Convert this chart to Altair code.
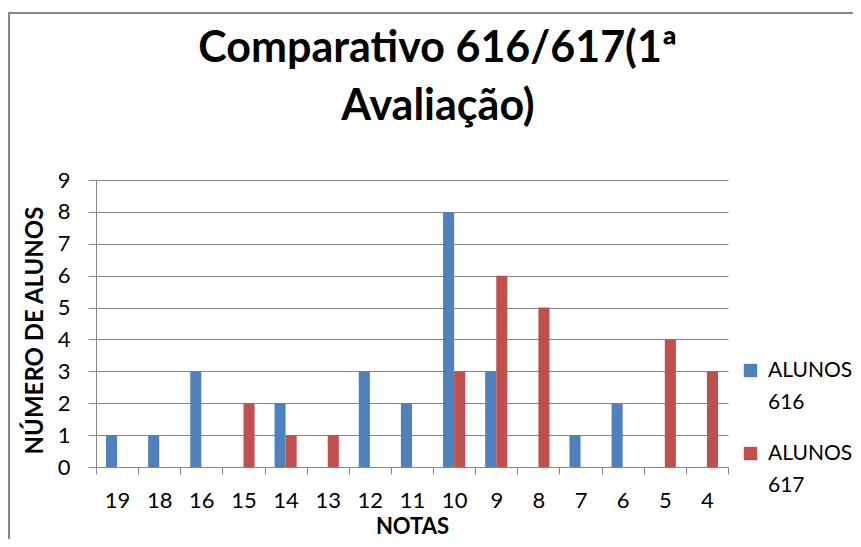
import altair as alt
import pandas as pd

notas = ["19", "18", "16", "15", "14", "13", "12", "11", "10", "9", "8", "7", "6", "5", "4"]
alunos_616 = [1, 1, 3, 0, 2, 0, 3, 2, 8, 3, 0, 1, 2, 0, 0]
alunos_617 = [0, 0, 0, 2, 1, 1, 0, 0, 3, 6, 5, 0, 0, 4, 3]
series = ["ALUNOS 616", "ALUNOS 617"]
colors = ["#4F81BD", "#C0504D"]
title_lines = ["Comparativo 616/617(1ª", "Avaliação)"]
y_ticks = list(range(10))

rows = []
for i, n in enumerate(notas):
    rows.append({"nota": n, "serie": series[0], "alunos": alunos_616[i]})
    rows.append({"nota": n, "serie": series[1], "alunos": alunos_617[i]})
df = pd.DataFrame(rows)

FONT = "Lato"
GREY = "#868686"

bars = alt.Chart(df).mark_bar().encode(
    x=alt.X(
        "nota:N",
        sort=notas,
        scale=alt.Scale(paddingInner=0, paddingOuter=0),
        axis=alt.Axis(
            title="NOTAS", labelAngle=0, tickBand="extent", tickSize=7,
            labelPadding=16, titlePadding=5, domainColor=GREY, tickColor=GREY,
            grid=False,
        ),
    ),
    xOffset=alt.XOffset("serie:N", sort=series,
                        scale=alt.Scale(paddingInner=0, paddingOuter=0.9)),
    y=alt.Y(
        "alunos:Q",
        scale=alt.Scale(domain=[0, 9], nice=False),
        axis=alt.Axis(
            title="NÚMERO DE ALUNOS", values=y_ticks, tickSize=8, labelPadding=18,
            titlePadding=10, titleFontSize=24, titleY=150, grid=True,
            gridColor=GREY, domainColor=GREY, tickColor=GREY,
        ),
    ),
    color=alt.Color(
        "serie:N",
        sort=series,
        scale=alt.Scale(domain=series, range=colors),
        legend=alt.Legend(
            title=None, orient="none", legendX=644, legendY=180,
            symbolType="square", symbolSize=180, symbolStrokeWidth=0,
            labelFont=FONT, labelFontSize=21, labelColor="black",
            labelExpr="split(datum.label, ' ')", labelLimit=300,
            labelBaseline="middle", labelOffset=7, rowPadding=29,
        ),
    ),
)

frame = alt.Chart(pd.DataFrame({"k": [0]})).mark_rect(
    filled=False, stroke=GREY, strokeWidth=2, clip=False
).encode(
    x=alt.value(-87), x2=alt.value(790), y=alt.value(-167), y2=alt.value(420)
)

chart = alt.layer(frame, bars).properties(
    width=632,
    height=287,
    padding={"left": 88, "top": 172, "right": 125, "bottom": 72},
    autosize=alt.AutoSizeParams(type="none"),
    title=alt.Title(
        title_lines, font=FONT, fontSize=43, fontWeight="bold", color="black",
        lineHeight=58, anchor="middle", frame="group", dx=26, offset=-117,
    ),
).configure(
    view=alt.ViewConfig(stroke="transparent"),
    axis=alt.AxisConfig(
        labelFont=FONT, labelFontSize=22, labelColor="black",
        titleFont=FONT, titleFontSize=22, titleFontWeight="bold", titleColor="black",
    ),
    style={"guide-label": {"lineHeight": 32}},
)

chart.save("out.html", embed_options={"renderer": "svg", "actions": False})
